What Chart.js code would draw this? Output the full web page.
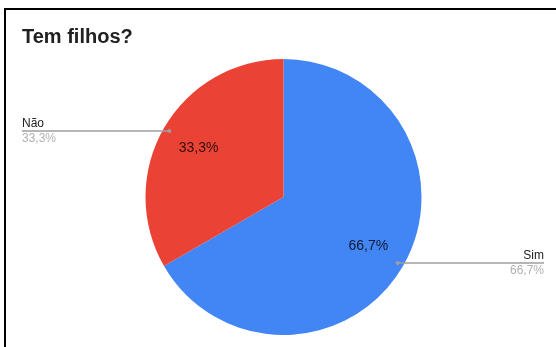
<!DOCTYPE html>
<html>
<head>
<meta charset="utf-8">
<script src="https://cdn.jsdelivr.net/npm/chart.js@4/dist/chart.umd.min.js"></script>
<style>
  html, body { margin: 0; padding: 0; background: #fff; }
  #wrap { width: 556px; height: 347px; position: relative; }
</style>
</head>
<body>
<div id="wrap"><canvas id="myChart" width="556" height="347"></canvas></div>
<script>
const chartTitle = 'Tem filhos?';
const categories = ['Sim', 'Não'];
const values = [2, 1];
const sliceColors = ['#4285F4', '#EA4335'];

const FONT = '"Liberation Sans", Arial, sans-serif';

function pctText(v) {
    const total = values.reduce((a, b) => a + b, 0);
    return (v / total * 100).toFixed(1).replace('.', ',') + '%';
}

// frame, title and the labels with leader lines
const decorations = {
    id: 'decorations',
    beforeDraw(chart) {
        const c = chart.ctx;
        c.save();
        c.fillStyle = '#000';
        c.fillRect(4, 8, 552, 2);
        c.fillRect(4, 8, 2, 339);
        c.fillStyle = '#212121';
        c.font = 'bold 20px ' + FONT;
        c.textBaseline = 'alphabetic';
        c.textAlign = 'left';
        c.fillText(chartTitle, 22, 43);
        c.restore();
    },
    afterDatasetsDraw(chart) {
        const c = chart.ctx;
        const meta = chart.getDatasetMeta(0);
        c.save();
        meta.data.forEach((arc, i) => {
            const p = arc.getProps(['x', 'y', 'startAngle', 'endAngle', 'outerRadius']);
            const mid = (p.startAngle + p.endAngle) / 2;
            const r = p.outerRadius;
            const txt = pctText(values[i]);

            // inside label
            c.font = '14px ' + FONT;
            c.textAlign = 'center';
            c.textBaseline = 'middle';
            c.fillStyle = 'rgba(0,0,0,0.8)';
            c.fillText(txt, p.x + Math.cos(mid) * r * 0.71, p.y + Math.sin(mid) * r * 0.71);

            // leader line
            const dx = p.x + Math.cos(mid) * r * 0.955;
            const dy = p.y + Math.sin(mid) * r * 0.955;
            const right = Math.cos(mid) > 0;
            const ex = right ? 544 : 22;
            c.strokeStyle = '#9e9e9e';
            c.lineWidth = 1.5;
            c.beginPath();
            c.moveTo(dx, dy);
            c.lineTo(ex, dy);
            c.stroke();
            c.fillStyle = '#9e9e9e';
            c.beginPath();
            c.arc(dx, dy, 2, 0, Math.PI * 2);
            c.fill();

            c.textAlign = right ? 'right' : 'left';
            c.font = '12px ' + FONT;
            c.textBaseline = 'alphabetic';
            c.fillStyle = '#222';
            c.fillText(categories[i], ex, dy - 4);
            c.fillStyle = '#b0b0b0';
            c.textBaseline = 'top';
            c.fillText(txt, ex, dy + 2);
        });
        c.restore();
    }
};

const ctx = document.getElementById('myChart').getContext('2d');
const myChart = new Chart(ctx, {
    type: 'pie',
    data: {
        labels: categories,
        datasets: [{
            data: values,
            backgroundColor: sliceColors,
            borderWidth: 0
        }]
    },
    options: {
        responsive: false,
        animation: false,
        layout: {
            padding: { left: 145, right: 134, top: 59, bottom: 12 }
        },
        plugins: {
            legend: { display: false },
            tooltip: { enabled: false }
        }
    },
    plugins: [decorations]
});
</script>
</body>
</html>
